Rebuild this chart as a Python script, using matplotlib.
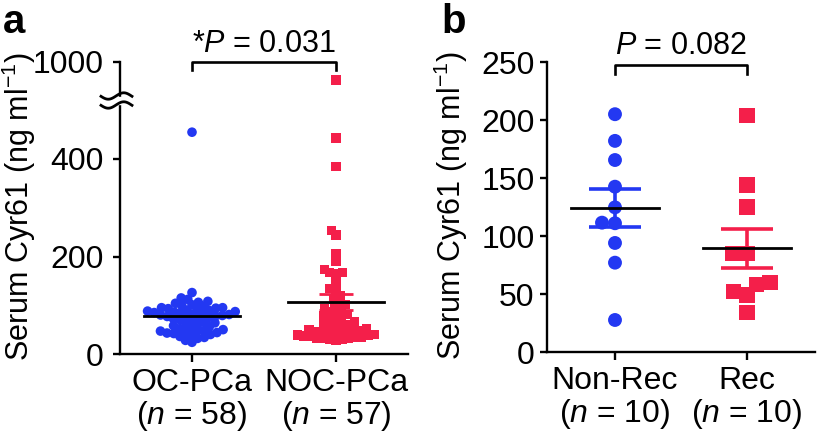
import numpy as np
import matplotlib
matplotlib.use('Agg')
import matplotlib.pyplot as plt

plt.rcParams['font.family'] = ['Liberation Sans', 'DejaVu Sans']
plt.rcParams['mathtext.fontset'] = 'custom'
plt.rcParams['mathtext.rm'] = 'Liberation Sans'
plt.rcParams['mathtext.it'] = 'Liberation Sans:italic'
plt.rcParams['mathtext.default'] = 'regular'

BLUE = '#2338f2'
RED = '#f41f4a'

# panel a: serum Cyr61 (ng/ml), organ-confined vs non-organ-confined PCa
groups_a = ['OC-PCa', 'NOC-PCa']
n_a = [58, 57]
oc_pca = [455,
          126, 115, 112, 108, 106, 104, 101, 99, 97, 95,
          95, 94, 93, 92, 90, 89, 88, 87, 86, 85,
          84, 83, 82, 81, 80, 79, 78, 77, 76, 75,
          74, 72, 70, 68, 66, 64, 62, 60, 58, 56,
          54, 52, 50, 48, 47, 46, 45, 44, 43, 42,
          40, 38, 36, 34, 32, 28, 24]
noc_pca = [772, 443, 384, 254, 244, 205, 189, 174, 167, 167,
           164, 148, 135, 133,
           119, 112, 106, 101, 97, 94, 90, 87, 84, 81,
           78, 75, 72, 69, 66, 63, 60, 58, 56, 54,
           52, 50, 48, 47, 46, 45, 44, 43, 42, 41,
           40, 39, 38, 37, 36, 35, 34, 33, 32, 31,
           30, 29, 28]
p_a = '*$\\mathit{P}$ = 0.031'
yticks_a = [0, 200, 400, 1000]

# panel b: non-recurrence vs recurrence
groups_b = ['Non-Rec', 'Rec']
n_b = [10, 10]
non_rec = [205, 182, 165.5, 142.5, 124.7, 111.5, 111, 94, 77, 27.6]
rec = [204, 144, 125, 85, 85, 58, 60, 52, 49, 34]
p_b = '$\\mathit{P}$ = 0.082'
yticks_b = [0, 50, 100, 150, 200, 250]

BREAK = 520.0


def fwd(y):
    y = np.asarray(y, dtype=float)
    return np.where(y <= BREAK, y, BREAK + (y - BREAK) / 6.0)


def inv(d):
    d = np.asarray(d, dtype=float)
    return np.where(d <= BREAK, d, BREAK + (d - BREAK) * 6.0)


def swarm_x(ax, xc, vals, diam):
    # simple beeswarm in pixel space
    pts = ax.transData.transform(np.column_stack([np.full(len(vals), xc), vals]))
    x0 = pts[0, 0]
    ys = pts[:, 1]
    order = np.argsort(ys)
    placed = []
    offs = np.zeros(len(vals))
    for i in order:
        cands = [0.0]
        for (px, py) in placed:
            dy = ys[i] - py
            if abs(dy) < diam:
                w = np.sqrt(diam ** 2 - dy ** 2)
                cands += [px - w, px + w]
        cands.sort(key=abs)
        for c in cands:
            ok = True
            for (px, py) in placed:
                if (c - px) ** 2 + (ys[i] - py) ** 2 < diam ** 2 - 1e-6:
                    ok = False
                    break
            if ok:
                offs[i] = c
                placed.append((c, ys[i]))
                break
    xs = ax.transData.inverted().transform(np.column_stack([x0 + offs, ys]))[:, 0]
    return xs


def sem_bars(ax, x, vals, color, cap, lw):
    v = np.asarray(vals, dtype=float)
    m = v.mean()
    s = v.std(ddof=1) / np.sqrt(len(v))
    ax.plot([x, x], [m - s, m + s], color=color, lw=lw, zorder=4, solid_capstyle='butt')
    for yy in (m - s, m + s):
        ax.plot([x - cap, x + cap], [yy, yy], color=color, lw=lw, zorder=4, solid_capstyle='butt')
    return m


def style(ax, ypad):
    for side in ('top', 'right'):
        ax.spines[side].set_visible(False)
    for side in ('left', 'bottom'):
        ax.spines[side].set_linewidth(1.7)
    ax.tick_params(axis='both', width=1.7, labelsize=23)
    ax.tick_params(axis='y', length=5, pad=ypad)
    ax.tick_params(axis='x', length=6, pad=4)


def xlabels(groups, ns):
    return ['%s\n($\\mathit{n}$ = %d)' % (g, n) for g, n in zip(groups, ns)]


fig = plt.figure(figsize=(8.2, 4.44), dpi=100)

# ---- panel a ----
ax1 = fig.add_axes([120 / 820, 1 - 354 / 444, 288 / 820, 292.5 / 444])
ax1.set_yscale('function', functions=(fwd, inv))
ax1.set_xlim(-0.5, 1.5)
ax1.set_ylim(0, 1000)
ax1.set_yticks(yticks_a)
ax1.set_yticklabels([str(t) for t in yticks_a])
ax1.set_xticks([0, 1])
ax1.set_xticklabels(xlabels(groups_a, n_a), linespacing=1.05)
style(ax1, 7)

xa = swarm_x(ax1, 0, oc_pca, 6.8)
ax1.scatter(xa, oc_pca, s=48, marker='o', color=BLUE, edgecolors='none', zorder=3, clip_on=False)
xb = swarm_x(ax1, 1, noc_pca, 6.5)
ax1.scatter(xb, noc_pca, s=44, marker='s', color=RED, edgecolors='none', zorder=3, clip_on=False)
for x, vals, col in ((0, oc_pca, BLUE), (1, noc_pca, RED)):
    m = sem_bars(ax1, x, vals, col, 0.12, 2.0)
    ax1.plot([x - 0.33, x + 0.33], [m, m], color='black', lw=2.0, zorder=5)

# axis break mark
wx = np.linspace(-19, 12, 60)
for dy in (-4.5, 4.5):
    wy = 520 / 600 * 292.5 + dy + 3.2 * np.sin(2 * np.pi * (wx + 4) / 31)
    ax1.plot(wx / 288, wy / 292.5, color='black', lw=2.0, transform=ax1.transAxes,
             clip_on=False, zorder=6)
gap_x = np.array([-1.5, 1.5, 1.5, -1.5]) / 288
gap_y = (520 / 600 * 292.5 + np.array([-3.5, -3.5, 3.5, 3.5])) / 292.5
ax1.fill(gap_x, gap_y, color='white', transform=ax1.transAxes, clip_on=False, zorder=5)

# significance bracket
ax1.plot([0, 0, 1, 1], [inv(582), 1000, 1000, inv(582)], color='black', lw=1.9,
         clip_on=False, zorder=6)
ax1.text(0.5, 1.01, p_a, transform=ax1.transAxes, ha='center', va='bottom', fontsize=22)

# ---- panel b ----
ax2 = fig.add_axes([547 / 820, 1 - 352 / 444, 268 / 820, 290 / 444])
ax2.set_xlim(-0.515, 1.515)
ax2.set_ylim(0, 250)
ax2.set_yticks(yticks_b)
ax2.set_xticks([0, 1])
ax2.set_xticklabels(xlabels(groups_b, n_b), linespacing=1.05)
style(ax2, 4)

xc = swarm_x(ax2, 0, non_rec, 13)
ax2.scatter(xc, non_rec, s=100, marker='o', color=BLUE, edgecolors='none', zorder=3)
xd = swarm_x(ax2, 1, rec, 14)
ax2.scatter(xd, rec, s=125, marker='s', color=RED, edgecolors='none', zorder=3)
for x, vals, col in ((0, non_rec, BLUE), (1, rec, RED)):
    m = sem_bars(ax2, x, vals, col, 0.2, 2.6)
    ax2.plot([x - 0.335, x + 0.335], [m, m], color='black', lw=2.0, zorder=5)

ax2.plot([0, 0, 1, 1], [240, 247, 247, 240], color='black', lw=1.9, clip_on=False, zorder=6)
ax2.text(0.5, 1.005, p_b, transform=ax2.transAxes, ha='center', va='bottom', fontsize=22)

# y labels and panel letters
ylab = 'Serum Cyr61 (ng ml$^{-1}$)'
fig.text(19 / 820, 1 - 207 / 444, ylab, rotation=90, ha='center', va='center', fontsize=22)
fig.text(451 / 820, 1 - 206 / 444, ylab, rotation=90, ha='center', va='center', fontsize=22)
fig.text(3 / 820, 1 - 3 / 444, 'a', fontsize=29, fontweight='bold', ha='left', va='top')
fig.text(441 / 820, 1 - 3 / 444, 'b', fontsize=29, fontweight='bold', ha='left', va='top')

fig.savefig('out.png', dpi=100)
